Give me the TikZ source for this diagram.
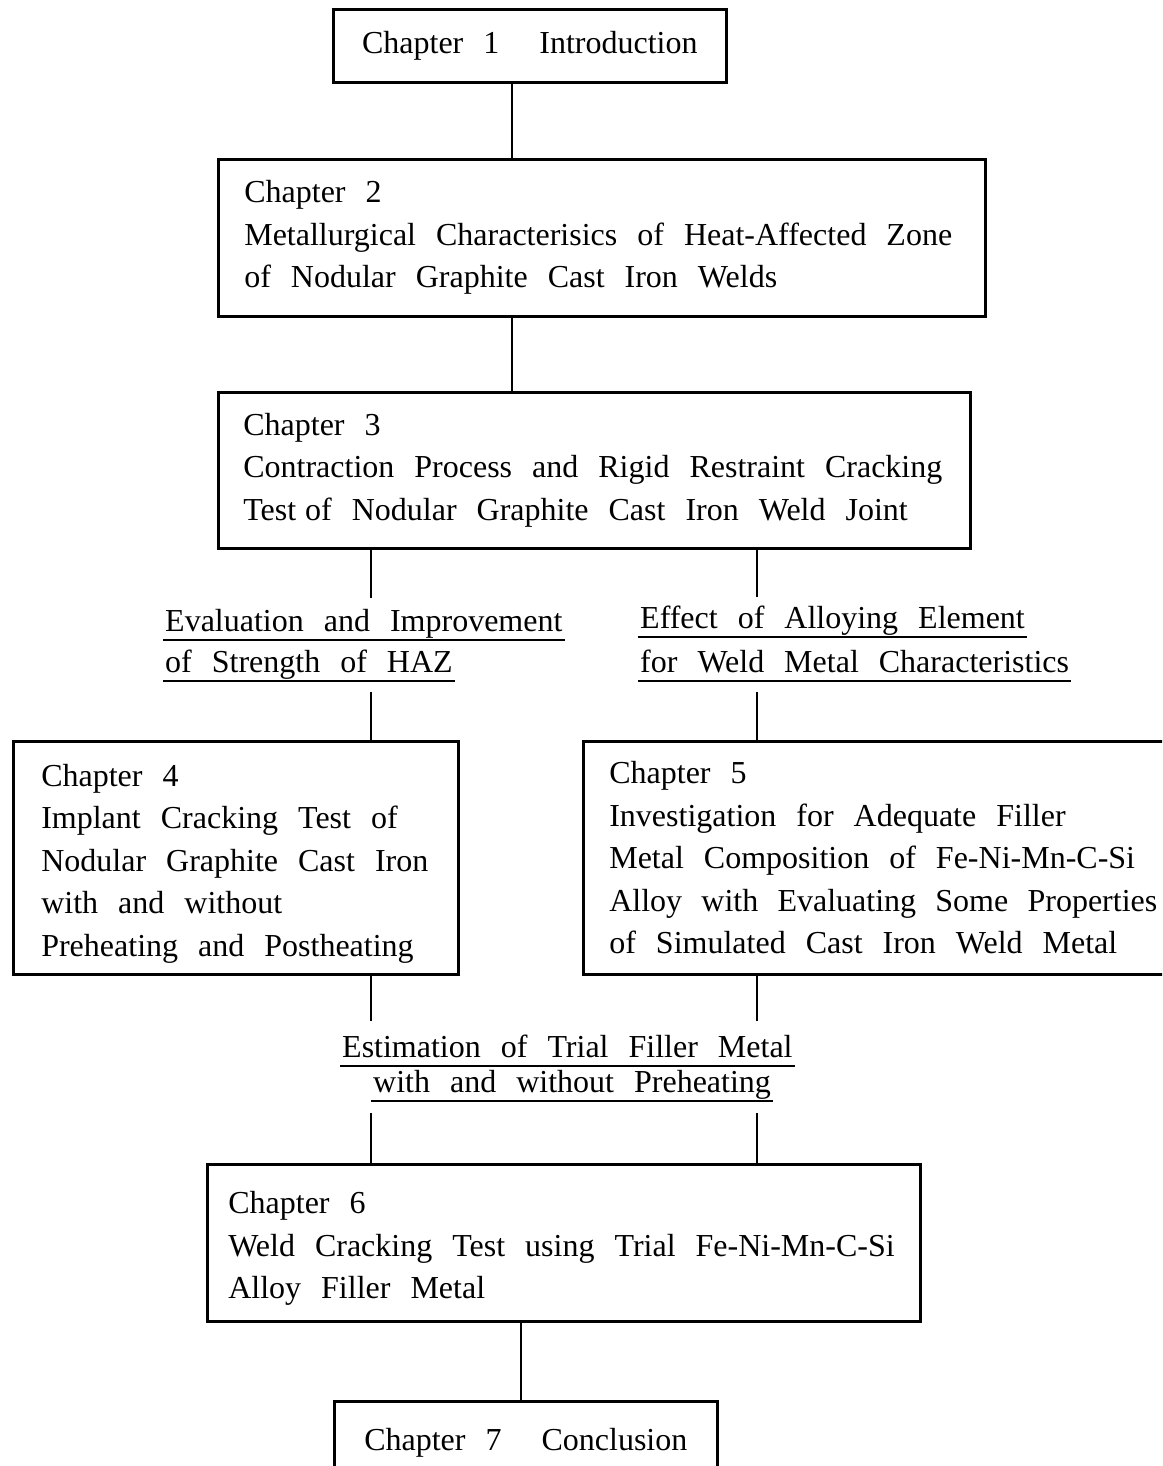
\documentclass[tikz,border=0pt]{standalone}
\usepackage{fontspec}
\setmainfont{Liberation Serif}[WordSpace=2.5]

\begin{document}
\begin{tikzpicture}[x=1pt, y=-1pt,
    chap/.style={draw, line width=2.6pt, rectangle, anchor=north west, align=flush left, font=\fontsize{32}{42.5}\selectfont, inner ysep=0pt},
    link/.style={line width=2.6pt},
    topic/.style={anchor=base west, inner sep=0pt, font=\fontsize{32}{42.5}\selectfont},
    uline/.style={line width=2.4pt}
]
    \useasboundingbox (0,0) rectangle (1162,1466);
    \clip (0,0) rectangle (1162,1466);

    % chapters
    \node[chap, align=center, minimum width=393pt, minimum height=73pt] (ch1) at (332,8) {Chapter 1\ \ Introduction};
    \node[chap, minimum width=767pt, minimum height=157pt, text width=715pt, inner xsep=26pt] (ch2) at (217,158)
        {Chapter 2\\Metallurgical Characterisics of Heat-Affected Zone\\of Nodular Graphite Cast Iron Welds};
    \node[chap, minimum width=752pt, minimum height=156pt, text width=702pt, inner xsep=25pt] (ch3) at (217,391)
        {Chapter 3\\Contraction Process and Rigid Restraint Cracking\\Test\hspace{9pt}of Nodular Graphite Cast Iron Weld Joint};
    \node[chap, minimum width=445pt, minimum height=233pt, text width=389pt, inner xsep=28pt] (ch4) at (12,740)
        {\rule{0pt}{34pt}Chapter 4\\Implant Cracking Test of\\Nodular Graphite Cast Iron\\with and without\\Preheating and Postheating};
    \node[chap, minimum width=600pt, minimum height=233pt, text width=548pt, inner xsep=26pt] (ch5) at (582,740)
        {Chapter 5\\Investigation for Adequate Filler\\Metal Composition of Fe-Ni-Mn-C-Si\\Alloy with Evaluating Some Properties\\of Simulated Cast Iron Weld Metal};
    \node[chap, minimum width=713pt, minimum height=157pt, text width=671pt, inner xsep=21pt] (ch6) at (206,1163)
        {\rule{0pt}{34pt}Chapter 6\\Weld Cracking Test using Trial Fe-Ni-Mn-C-Si\\Alloy Filler Metal};
    \node[chap, align=center, minimum width=383pt, minimum height=82pt] (ch7) at (333,1400) {Chapter 7\ \ Conclusion};

    % underlined topics
    \node[topic] (ev1) at (165,631) {Evaluation and Improvement};
    \node[topic] (ev2) at (165,672) {of Strength of HAZ};
    \node[topic] (ef1) at (640,628) {Effect of Alloying Element};
    \node[topic] (ef2) at (640,672) {for Weld Metal Characteristics};
    \node[topic] (es1) at (342,1057) {Estimation of Trial Filler Metal};
    \node[topic] (es2) at (373,1092) {with and without Preheating};
    \foreach \n in {ev1,ev2,ef1,ef2,es1,es2}
        \draw[uline] ([xshift=-2pt,yshift=-9pt]\n.base west) -- ([xshift=2pt,yshift=-9pt]\n.base east);

    % connectors
    \coordinate (spine) at (512,0);
    \coordinate (foot) at (521,0);
    \coordinate (evtop) at (371,598);
    \coordinate (evbot) at (371,692);
    \coordinate (eftop) at (757,597);
    \coordinate (efbot) at (757,692);
    \coordinate (esltop) at (371,1021);
    \coordinate (esrtop) at (757,1021);
    \coordinate (eslbot) at (371,1113);
    \coordinate (esrbot) at (757,1113);

    \draw[link] (ch1.south -| spine) -- (ch2.north -| spine);
    \draw[link] (ch2.south -| spine) -- (ch3.north -| spine);
    \draw[link] (ch3.south -| evtop) -- (evtop);
    \draw[link] (ch3.south -| eftop) -- (eftop);
    \draw[link] (evbot) -- (evbot |- ch4.north);
    \draw[link] (efbot) -- (efbot |- ch5.north);
    \draw[link] (ch4.south -| esltop) -- (esltop);
    \draw[link] (ch5.south -| esrtop) -- (esrtop);
    \draw[link] (eslbot) -- (eslbot |- ch6.north);
    \draw[link] (esrbot) -- (esrbot |- ch6.north);
    \draw[link] (ch6.south -| foot) -- (ch7.north -| foot);
\end{tikzpicture}
\end{document}
